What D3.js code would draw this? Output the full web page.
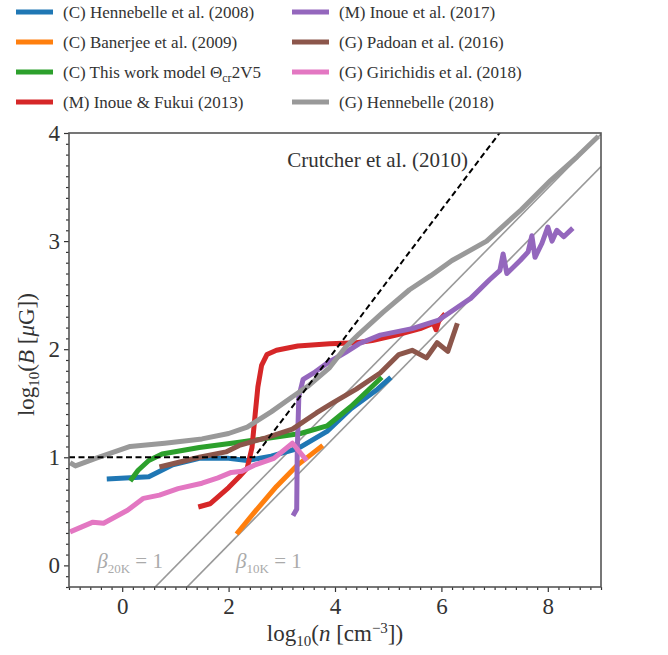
<!DOCTYPE html>
<html>
<head>
<meta charset="utf-8">
<script src="https://cdn.jsdelivr.net/npm/d3@7"></script>
<style>
  body { margin: 0; background: #fff; }
</style>
</head>
<body>
<div id="chart"></div>
<script>
// series: [log10 n, log10 B]
const hennebelle2008 = [[-0.29,0.8],[0.5,0.82],[0.95,0.93],[1.45,0.99],[2.0,0.99],[2.35,0.97],[2.8,1.01],[3.3,1.08],[3.85,1.24],[4.3,1.45],[4.8,1.63],[5.05,1.74]];
const banerjee2009 = [[2.15,0.29],[2.5,0.5],[2.9,0.73],[3.3,0.93],[3.77,1.11]];
const thisWork = [[0.15,0.78],[0.3,0.88],[0.5,0.97],[0.75,1.03],[1.45,1.09],[2.2,1.14],[2.8,1.18],[3.35,1.22],[3.85,1.29],[4.3,1.47],[4.88,1.74]];
const inoueFukui2013 = [[1.43,0.54],[1.65,0.57],[2.0,0.72],[2.2,0.82],[2.35,0.9],[2.44,1.09],[2.5,1.4],[2.55,1.65],[2.62,1.85],[2.72,1.95],[2.9,1.99],[3.3,2.03],[3.9,2.05],[4.4,2.06],[4.7,2.08],[5.15,2.13],[5.6,2.19],[5.85,2.24],[5.9,2.18],[5.95,2.26],[6.07,2.33]];
const inoue2017 = [[3.21,0.46],[3.28,0.52],[3.29,1.04],[3.32,1.56],[3.4,1.72],[3.6,1.78],[3.85,1.87],[4.2,1.97],[4.45,2.05],[4.85,2.13],[5.45,2.19],[5.95,2.27],[6.4,2.42],[6.55,2.47],[6.9,2.64],[7.1,2.73],[7.16,2.88],[7.23,2.7],[7.48,2.82],[7.63,2.9],[7.7,3.05],[7.76,2.85],[7.89,2.98],[8.0,3.13],[8.08,3.0],[8.17,3.1],[8.3,3.04],[8.47,3.12]];
const padoan2016 = [[0.7,0.91],[1.45,1.0],[1.95,1.05],[2.2,1.11],[2.7,1.18],[3.2,1.26],[3.65,1.41],[3.95,1.5],[4.4,1.63],[4.85,1.78],[5.2,1.95],[5.45,1.99],[5.72,1.92],[5.92,2.06],[6.12,1.98],[6.3,2.24]];
const girichidis2018 = [[-0.98,0.31],[-0.55,0.4],[-0.35,0.39],[0.1,0.51],[0.4,0.62],[0.7,0.65],[1.05,0.71],[1.5,0.76],[1.8,0.81],[2.05,0.86],[2.25,0.87],[2.5,0.93],[2.85,0.99],[3.05,1.07],[3.2,1.13],[3.47,0.97]];
const hennebelle2018 = [[-0.98,0.95],[-0.88,0.92],[-0.5,0.99],[0.15,1.1],[0.8,1.13],[1.5,1.17],[2.0,1.22],[2.35,1.28],[2.8,1.42],[3.2,1.56],[3.5,1.66],[3.9,1.83],[4.2,2.02],[4.45,2.14],[4.9,2.34],[5.4,2.55],[5.8,2.68],[6.2,2.82],[6.85,3.0],[7.5,3.29],[8.05,3.56],[8.55,3.78],[8.95,3.97]];

// reference relations (end points, clipped to the axes)
const crutcher = [[-1,1],[2.48,1],[9,5.24]];
const beta20K = [[-1,-1.01],[9,3.99]];
const beta10K = [[-1,-1.31],[9,3.69]];

const seriesNames = ["(C) Hennebelle et al. (2008)", "(C) Banerjee et al. (2009)", "(C) This work model Θcr2V5", "(M) Inoue & Fukui (2013)",
                     "(M) Inoue et al. (2017)", "(G) Padoan et al. (2016)", "(G) Girichidis et al. (2018)", "(G) Hennebelle (2018)"];
const seriesData = [hennebelle2008, banerjee2009, thisWork, inoueFukui2013, inoue2017, padoan2016, girichidis2018, hennebelle2018];
const seriesColors = ["#1f77b4", "#ff7f0e", "#2ca02c", "#d62728", "#9467bd", "#8c564b", "#e377c2", "#999999"];

const xTicks = [0, 2, 4, 6, 8];
const yTicks = [0, 1, 2, 3, 4];

const FONT = "'Liberation Serif', 'DejaVu Serif', serif";

const W = 668, H = 655;
const margin = { top: 133, right: 67, bottom: 68, left: 69 };
const width = W - margin.left - margin.right,
      height = H - margin.top - margin.bottom;

const svg = d3.select("#chart").append("svg")
    .attr("width", W)
    .attr("height", H);

const g = svg.append("g")
    .attr("transform", `translate(${margin.left},${margin.top})`);

const x = d3.scaleLinear().domain([-1, 9]).range([0, width]);
const y = d3.scaleLinear().domain([-0.2, 4]).range([height, 0]);

g.append("clipPath").attr("id", "clip")
  .append("rect").attr("width", width).attr("height", height);

const line = d3.line().x(d => x(d[0])).y(d => y(d[1]));

const plot = g.append("g").attr("clip-path", "url(#clip)");

// beta = 1 lines
[beta20K, beta10K].forEach(b => {
  plot.append("path").attr("d", line(b))
    .attr("fill", "none").attr("stroke", "#999").attr("stroke-width", 1.6);
});

// data series
seriesData.forEach((s, i) => {
  plot.append("path").attr("d", line(s))
    .attr("fill", "none")
    .attr("stroke", seriesColors[i])
    .attr("stroke-width", 5)
    .attr("stroke-linejoin", "round")
    .attr("stroke-linecap", "butt");
});

// Crutcher relation
plot.append("path").attr("d", line(crutcher))
  .attr("fill", "none").attr("stroke", "#000")
  .attr("stroke-width", 2).attr("stroke-dasharray", "6,3.5");

// axes
const minorX = d3.range(-1, 9.001, 0.2).filter(v => !xTicks.some(t => Math.abs(t - v) < 1e-6));
const minorY = d3.range(-0.2, 4.001, 0.1).filter(v => !yTicks.some(t => Math.abs(t - v) < 1e-6));

const xMinor = g.append("g").attr("transform", `translate(0,${height})`)
  .call(d3.axisBottom(x).tickValues(minorX).tickSize(3).tickFormat(""));
const xAxis = g.append("g").attr("class", "axis x-axis").attr("transform", `translate(0,${height})`)
  .call(d3.axisBottom(x).tickValues(xTicks).tickSize(5).tickPadding(6).tickFormat(d3.format("d")));
const yMinor = g.append("g")
  .call(d3.axisLeft(y).tickValues(minorY).tickSize(3).tickFormat(""));
const yAxis = g.append("g").attr("class", "axis y-axis")
  .call(d3.axisLeft(y).tickValues(yTicks).tickSize(5).tickPadding(4).tickFormat(d3.format("d")));

[xMinor, xAxis, yMinor, yAxis].forEach(a => {
  a.attr("font-family", null);
  a.select(".domain").remove();
  a.selectAll(".tick line").attr("stroke", "#333").attr("stroke-width", 1.2);
  a.selectAll(".tick text").attr("fill", "#333").style("font-size", "23px");
});

// frame
g.append("rect").attr("width", width).attr("height", height)
  .attr("fill", "none").attr("stroke", "#555").attr("stroke-width", 1.6);

// annotations
g.append("text").attr("x", x(6.5)).attr("y", y(3.69))
  .attr("text-anchor", "end").attr("fill", "#333").style("font-size", "21px")
  .text("Crutcher et al. (2010)");

function betaLabel(px, sub) {
  const t = g.append("text").attr("x", px).attr("y", y(-0.02))
    .attr("fill", "#aaa").style("font-size", "21px");
  t.append("tspan").style("font-style", "italic").text("β");
  t.append("tspan").attr("dy", 5).style("font-size", "13px").text(sub);
  t.append("tspan").attr("dy", -5).text(" = 1");
}
betaLabel(x(-0.47), "20K");
betaLabel(x(2.14), "10K");

// axis labels
const xl = svg.append("text")
  .attr("x", margin.left + x(4)).attr("y", 641)
  .attr("text-anchor", "middle").attr("fill", "#333").style("font-size", "23px");
xl.append("tspan").text("log");
xl.append("tspan").attr("dy", 5).style("font-size", "15px").text("10");
xl.append("tspan").attr("dy", -5).text("(");
xl.append("tspan").style("font-style", "italic").text("n");
xl.append("tspan").text(" [cm");
xl.append("tspan").attr("dy", -8).style("font-size", "15px").text("−3");
xl.append("tspan").attr("dy", 8).text("])");

const yl = svg.append("text")
  .attr("transform", `translate(34,${margin.top + y(1.95)}) rotate(-90)`)
  .attr("text-anchor", "middle").attr("fill", "#333").style("font-size", "23px");
yl.append("tspan").text("log");
yl.append("tspan").attr("dy", 5).style("font-size", "15px").text("10");
yl.append("tspan").attr("dy", -5).text("(");
yl.append("tspan").style("font-style", "italic").text("B");
yl.append("tspan").text(" [");
yl.append("tspan").style("font-style", "italic").text("μ");
yl.append("tspan").text("G])");

// legend, two columns of four
const legend = svg.append("g");
seriesNames.forEach((name, i) => {
  const col = Math.floor(i / 4), row = i % 4;
  const lx = col ? 292 : 16, ly = 12 + row * 30;
  legend.append("line").attr("x1", lx).attr("x2", lx + 37)
    .attr("y1", ly).attr("y2", ly)
    .attr("stroke", seriesColors[i]).attr("stroke-width", 5);
  const t = legend.append("text").attr("x", lx + 47).attr("y", ly + 6)
    .attr("fill", "#333").style("font-size", "17px");
  if (name.includes("Θcr")) {
    t.append("tspan").text("(C) This work model Θ");
    t.append("tspan").attr("dy", 4).style("font-size", "12px").text("cr");
    t.append("tspan").attr("dy", -4).text("2V5");
  } else {
    t.text(name);
  }
});

svg.selectAll("text").style("font-family", FONT);
</script>
</body>
</html>
